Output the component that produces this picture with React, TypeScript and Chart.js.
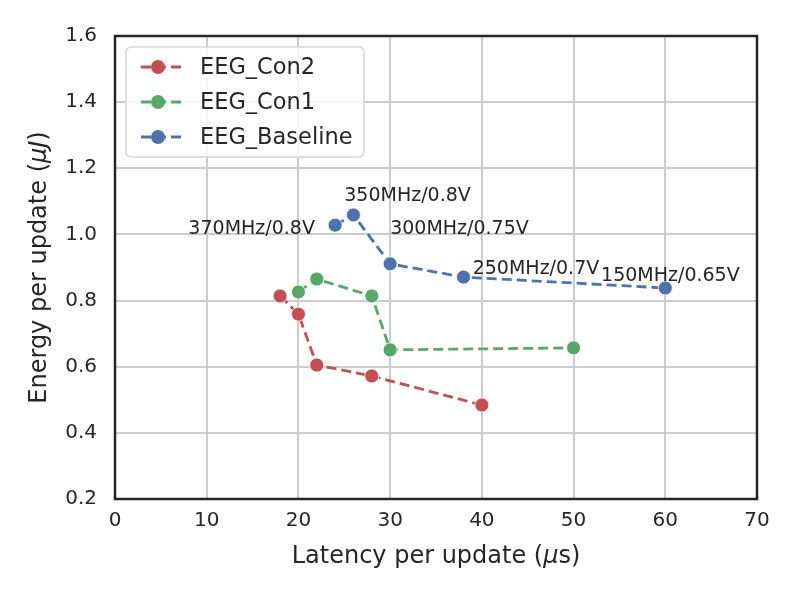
import { useEffect, useRef } from "react";
import { Chart } from "chart.js/auto";
import type { ChartConfiguration, Plugin } from "chart.js";

const con2X = [18, 20, 22, 28, 40];
const con2Y = [0.814, 0.759, 0.605, 0.572, 0.484];
const con1X = [20, 22, 28, 30, 50];
const con1Y = [0.826, 0.865, 0.814, 0.651, 0.657];
const baseX = [24, 26, 30, 38, 60];
const baseY = [1.028, 1.059, 0.911, 0.871, 0.838];

const seriesNames = ["EEG_Con2", "EEG_Con1", "EEG_Baseline"];
const seriesColors = ["#C44E52", "#55A868", "#4C72B0"];

const noteText = ["370MHz/0.8V", "350MHz/0.8V", "300MHz/0.75V", "250MHz/0.7V", "150MHz/0.65V"];
const noteX = [8, 25, 30, 39, 53];
const noteY = [1.0, 1.1, 1.0, 0.88, 0.86];

const TEXT = "#262626";
const FONT = "DejaVu Sans";

const toPoints = (xs: number[], ys: number[]) => xs.map((x, i) => ({ x, y: ys[i] }));

// mixed upright/italic text, centred on (x, y)
function drawMixed(
  ctx: CanvasRenderingContext2D,
  parts: [string, boolean][],
  x: number,
  y: number,
  size: number
) {
  const widths = parts.map(([t, it]) => {
    ctx.font = `${it ? "italic " : ""}${size}px ${FONT}`;
    return ctx.measureText(t).width;
  });
  const total = widths.reduce((a, b) => a + b, 0);
  let cx = x - total / 2;
  ctx.textAlign = "left";
  ctx.textBaseline = "middle";
  parts.forEach(([t, it], i) => {
    ctx.font = `${it ? "italic " : ""}${size}px ${FONT}`;
    ctx.fillText(t, cx, y);
    cx += widths[i];
  });
}

const extras: Plugin<"scatter"> = {
  id: "extras",
  afterDraw(chart) {
    const { ctx, chartArea: a, scales } = chart;
    const sx = scales.x;
    const sy = scales.y;
    ctx.save();

    // frame
    ctx.strokeStyle = TEXT;
    ctx.lineWidth = 2.5;
    ctx.strokeRect(a.left, a.top, a.right - a.left, a.bottom - a.top);

    // annotations
    ctx.fillStyle = TEXT;
    ctx.font = `19px ${FONT}`;
    ctx.textAlign = "left";
    ctx.textBaseline = "alphabetic";
    noteText.forEach((t, i) => {
      ctx.fillText(t, sx.getPixelForValue(noteX[i]), sy.getPixelForValue(noteY[i]));
    });

    // legend
    const lx = 126, ly = 47, lw = 238, lh = 110, r = 5;
    ctx.beginPath();
    ctx.roundRect(lx, ly, lw, lh, r);
    ctx.fillStyle = "rgba(255,255,255,0.8)";
    ctx.fill();
    ctx.strokeStyle = "#d6d6d6";
    ctx.lineWidth = 1.5;
    ctx.stroke();
    const rows = [67, 102, 137];
    seriesNames.forEach((name, i) => {
      const yy = rows[i];
      ctx.strokeStyle = seriesColors[i];
      ctx.lineWidth = 2.8;
      ctx.setLineDash([10, 5]);
      ctx.lineDashOffset = -5;
      ctx.beginPath();
      ctx.moveTo(136, yy);
      ctx.lineTo(181, yy);
      ctx.stroke();
      ctx.setLineDash([]);
      ctx.beginPath();
      ctx.arc(158, yy, 7, 0, Math.PI * 2);
      ctx.fillStyle = seriesColors[i];
      ctx.fill();
      ctx.fillStyle = TEXT;
      ctx.font = `22.5px ${FONT}`;
      ctx.textAlign = "left";
      ctx.textBaseline = "middle";
      ctx.fillText(name, 200, yy + 1);
    });

    // axis titles
    ctx.fillStyle = TEXT;
    drawMixed(ctx, [["Latency per update (", false], ["\u03bc", true], ["s)", false]], (a.left + a.right) / 2, 557, 24);
    ctx.translate(40, (a.top + a.bottom) / 2);
    ctx.rotate(-Math.PI / 2);
    drawMixed(ctx, [["Energy per update (", false], ["\u03bcJ", true], [")", false]], 0, 0, 24);
    ctx.restore();
  },
};

export default function App() {
  const canvasRef = useRef<HTMLCanvasElement>(null);
  const chartInstance = useRef<Chart | null>(null);

  useEffect(() => {
    if (!canvasRef.current) return;
    const ctx = canvasRef.current.getContext("2d");
    if (!ctx) return;

    const sets = [toPoints(con2X, con2Y), toPoints(con1X, con1Y), toPoints(baseX, baseY)];

    const config: ChartConfiguration<"scatter"> = {
      type: "scatter",
      data: {
        datasets: sets.map((d, i) => ({
          label: seriesNames[i],
          data: d,
          showLine: true,
          borderColor: seriesColors[i],
          backgroundColor: seriesColors[i],
          borderWidth: 2.8,
          borderDash: [10, 5],
          pointRadius: 7,
          pointBorderColor: "#ffffff",
          pointBorderWidth: 0.8,
          pointHoverRadius: 7,
        })),
      },
      options: {
        responsive: false,
        animation: false,
        layout: { padding: { left: 0, top: 36, right: 43, bottom: 0 } },
        plugins: {
          legend: { display: false },
          tooltip: { enabled: false },
        },
        scales: {
          x: {
            type: "linear",
            min: 0,
            max: 70,
            afterFit: (s) => {
              s.height = 101;
            },
            grid: { color: "#cccccc", lineWidth: 2, drawTicks: false },
            border: { display: false },
            ticks: {
              stepSize: 10,
              padding: 10,
              color: TEXT,
              font: { family: FONT, size: 20 },
            },
          },
          y: {
            type: "linear",
            min: 0.2,
            max: 1.6,
            afterFit: (s) => {
              s.width = 115;
            },
            grid: { color: "#cccccc", lineWidth: 2, drawTicks: false },
            border: { display: false },
            ticks: {
              stepSize: 0.2,
              padding: 18,
              color: TEXT,
              font: { family: FONT, size: 20 },
              callback: (v) => Number(v).toFixed(1),
            },
          },
        },
      },
      plugins: [extras],
    };

    chartInstance.current = new Chart(ctx, config);
    return () => {
      if (chartInstance.current) chartInstance.current.destroy();
    };
  }, []);

  return (
    <div style={{ position: "fixed", left: 0, top: 0, width: 800, height: 600, background: "#ffffff" }}>
      <canvas ref={canvasRef} width={800} height={600} />
    </div>
  );
}
